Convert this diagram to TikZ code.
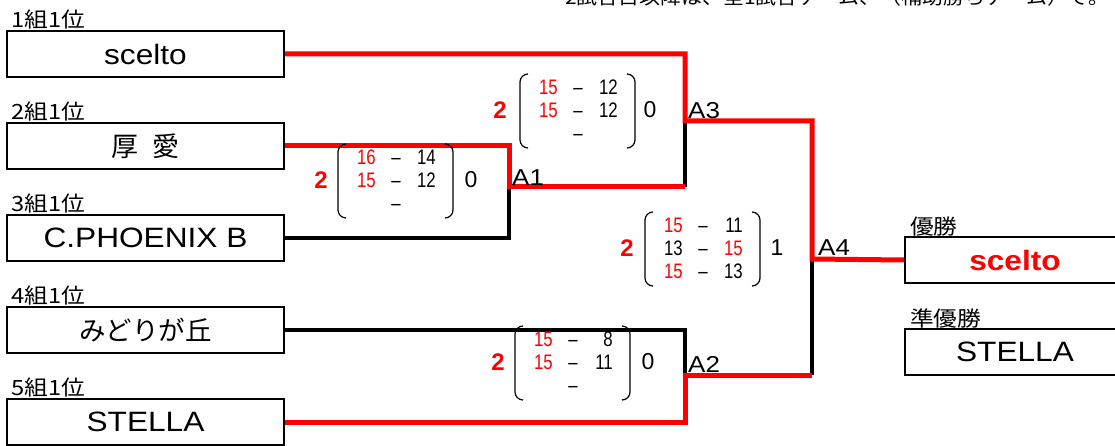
\documentclass[tikz,border=0pt]{standalone}
\usepackage{fontspec}
\setmainfont{Liberation Sans}[FakeStretch=1.13]
\newfontfamily\jp{Noto Sans CJK JP}[FakeStretch=1.13]
\newfontfamily\jpn{Noto Sans CJK JP}
\newfontfamily\scf{Liberation Sans}[FakeStretch=0.8]
\newfontfamily\lsans{Liberation Sans}
\definecolor{rd}{RGB}{255,0,0}
\newcommand\parens[3]{%
  \draw[paren] ({#1+8},#2) -- (#1,#2) -- (#1,#3) -- ({#1+8},#3);
  \draw[paren] ({#1+107},#2) -- ({#1+115},#2) -- ({#1+115},#3) -- ({#1+107},#3);}
\newcommand\srow[5]{%
  \node[sc, anchor=east] (#1a) at ({#2+38},#3) {#4};
  \node[sc] (#1d) at ({#2+58},#3) {–};
  \node[sc, anchor=east] (#1b) at ({#2+98},#3) {#5};}
\begin{document}
\begin{tikzpicture}[x=1pt,y=-1pt,
  teambox/.style={draw, line width=2pt, minimum width=277pt, minimum height=46pt, inner sep=0pt, font=\fontsize{28}{30}\selectfont},
  winbox/.style={draw, line width=2pt, minimum width=220pt, minimum height=46pt, inner sep=0pt, font=\fontsize{28}{30}\selectfont},
  lbl/.style={inner sep=0pt, anchor=south west, font=\jp\fontsize{21}{23}\selectfont},
  alab/.style={inner sep=0pt, anchor=south west, font=\fontsize{23}{24}\selectfont},
  redline/.style={draw=rd, line width=5pt},
  blkline/.style={draw=black, line width=3.2pt},
  paren/.style={draw=black, line width=1.2pt, rounded corners=8pt},
  sc/.style={inner sep=0pt, text height=15pt, text depth=0pt, font=\scf\fontsize{21}{23}\selectfont},
  wn/.style={inner sep=0pt, text=rd, font=\lsans\bfseries\fontsize{24}{26}\selectfont},
  ls/.style={inner sep=0pt, font=\lsans\fontsize{23}{25}\selectfont}]
\useasboundingbox (0,0) rectangle (1115,446);
\fill[white] (0,0) rectangle (1115,446);

% note at the top (cut off)
\node[inner sep=0pt, anchor=base west, font=\jp\fontsize{18.5}{20}\selectfont] (note) at (565,5) {2試合目以降は、全1試合ゲーム、（補助勝ちゲーム）で。};

% team boxes
\node[teambox] (t1) at (145.5,54) {scelto};
\node[teambox] (t2) at (145.5,146) {\jpn\fontsize{27}{29}\selectfont 厚\hspace{0.55em}愛};
\node[teambox] (t3) at (145.5,238) {C.PHOENIX B};
\node[teambox] (t4) at (145.5,330) {\jpn\fontsize{26.5}{28}\selectfont みどりが丘};
\node[teambox] (t5) at (145.5,422) {STELLA};

\node[lbl] (l1) at (11,29) {1組1位};
\node[lbl] (l2) at (11,121) {2組1位};
\node[lbl] (l3) at (11,213) {3組1位};
\node[lbl] (l4) at (11,305) {4組1位};
\node[lbl] (l5) at (11,397) {5組1位};

% result boxes
\node[winbox] (w1) at (1015,260) {\textcolor{rd}{\bfseries scelto}};
\node[winbox] (w2) at (1015,352) {STELLA};
\node[lbl] (lw1) at (910,236) {優勝};
\node[lbl] (lw2) at (910,328) {準優勝};

% junctions
\coordinate (j1) at (509,187);
\coordinate (j3) at (685,121);
\coordinate (j2) at (685,375);
\coordinate (j4) at (812,259);

% black (losing) lines
\draw[blkline] (t3.east) -| (j1);
\draw[blkline] (j1 -| j3) -- (j3);
\draw[blkline] (t4.east) -| (j2);
\draw[blkline] (j2 -| j4) -- (j4);
% red (winning) lines
\draw[redline] (t1.east) -| (j3) -| (j4) -- (w1.west);
\draw[redline] (t2.east) -| (j1) -- (j1 -| j3);
\draw[redline] (t5.east) -| (j2) -- (j2 -| j4);

% match labels
\node[alab] (A1) at (512,186) {A1};
\node[alab] (A3) at (688,119) {A3};
\node[alab] (A2) at (688,373) {A2};
\node[alab] (A4) at (818,256) {A4};

% A3 score
\parens{520}{74}{148}
\srow{sa}{520}{87}{\textcolor{rd}{15}}{12}
\srow{sb}{520}{110}{\textcolor{rd}{15}}{12}
\srow{sc}{520}{133}{}{}
\node[wn] (w3n) at (500,110) {2};
\node[ls] (l3n) at (650,110) {0};

% A1 score
\parens{338}{144}{218}
\srow{ra}{338}{157}{\textcolor{rd}{16}}{14}
\srow{rb}{338}{180}{\textcolor{rd}{15}}{12}
\srow{rc}{338}{203}{}{}
\node[wn] (w1n) at (321,180) {2};
\node[ls] (l1n) at (471,180) {0};

% A4 score
\parens{645}{212}{286}
\srow{qa}{645}{225}{\textcolor{rd}{15}}{11}
\srow{qb}{645}{248}{13}{\textcolor{rd}{15}}
\srow{qc}{645}{271}{\textcolor{rd}{15}}{13}
\node[wn] (w4n) at (627,248) {2};
\node[ls] (l4n) at (777,248) {1};

% A2 score
\parens{515}{326}{400}
\srow{pa}{515}{339}{\textcolor{rd}{15}}{8}
\srow{pb}{515}{362}{\textcolor{rd}{15}}{11}
\srow{pc}{515}{385}{}{}
\node[wn] (w2n) at (498,362) {2};
\node[ls] (l2n) at (648,362) {0};
\end{tikzpicture}
\end{document}
